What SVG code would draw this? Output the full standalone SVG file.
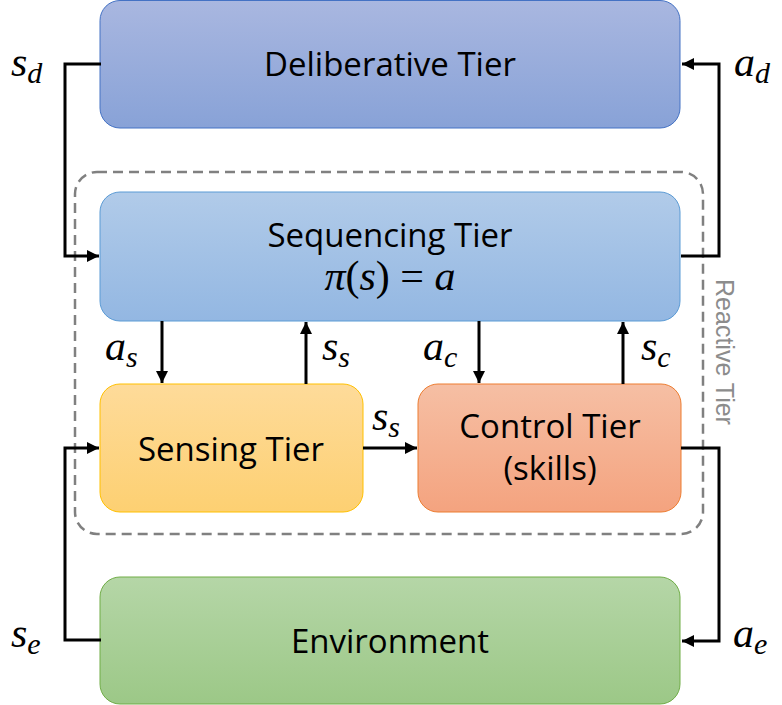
<svg xmlns="http://www.w3.org/2000/svg" width="782" height="705" viewBox="0 0 782 705">
<defs>
<linearGradient id="gDel" x1="0" y1="0" x2="0" y2="1"><stop offset="0" stop-color="#a9b7e0"/><stop offset="1" stop-color="#88a2d7"/></linearGradient>
<linearGradient id="gSeq" x1="0" y1="0" x2="0" y2="1"><stop offset="0" stop-color="#b1cbe9"/><stop offset="1" stop-color="#93b7e2"/></linearGradient>
<linearGradient id="gSen" x1="0" y1="0" x2="0" y2="1"><stop offset="0" stop-color="#fedb9a"/><stop offset="1" stop-color="#fdd072"/></linearGradient>
<linearGradient id="gCon" x1="0" y1="0" x2="0" y2="1"><stop offset="0" stop-color="#f6bfa4"/><stop offset="1" stop-color="#f4a37f"/></linearGradient>
<linearGradient id="gEnv" x1="0" y1="0" x2="0" y2="1"><stop offset="0" stop-color="#b5d6a7"/><stop offset="1" stop-color="#9cc887"/></linearGradient>
<marker id="arr" viewBox="0 0 10 10" refX="10" refY="5" markerWidth="4" markerHeight="4" markerUnits="strokeWidth" orient="auto"><path d="M0,0 L10,5 L0,10 z" fill="#000"/></marker>
</defs>
<style>
.lbl{font-family:"Open Sans","Liberation Sans",Arial,sans-serif;font-size:33px;fill:#000;text-anchor:middle}
.m{font-family:"Liberation Serif","Times New Roman",serif;font-style:italic;font-size:42px;fill:#000}
.sub{font-size:30px}
.up{font-style:normal}
.c{fill:none;stroke:#000;stroke-width:3;marker-end:url(#arr)}
</style>
<g id="reactive">
<rect x="75" y="172" width="628" height="362" rx="22" fill="none" stroke="#808080" stroke-width="2.5" stroke-dasharray="10,6"/>
<text transform="translate(716,352) rotate(90)" text-anchor="middle" font-family="'Liberation Sans',Arial,sans-serif" font-size="25" fill="#8c8c8c">Reactive Tier</text>
</g>
<g id="deliberative">
<rect x="100" y="0.5" width="580" height="127.5" rx="20" fill="url(#gDel)" stroke="#4472c4" stroke-width="1"/>
<text class="lbl" x="390" y="76">Deliberative Tier</text>
</g>
<g id="sequencing">
<rect x="100" y="192" width="580" height="129" rx="20" fill="url(#gSeq)" stroke="#5b9bd5" stroke-width="1"/>
<text class="lbl" x="390" y="247">Sequencing Tier</text>
<text class="m" x="390" y="290" text-anchor="middle">π<tspan class="up">(</tspan>s<tspan class="up">) = </tspan>a</text>
</g>
<g id="sensing">
<rect x="100" y="384" width="263" height="128" rx="20" fill="url(#gSen)" stroke="#ffc000" stroke-width="1"/>
<text class="lbl" x="231" y="461">Sensing Tier</text>
</g>
<g id="control">
<rect x="418" y="384" width="263" height="128" rx="20" fill="url(#gCon)" stroke="#ed7d31" stroke-width="1"/>
<text class="lbl" x="550" y="438">Control Tier</text>
<text class="lbl" x="550" y="480">(skills)</text>
</g>
<g id="environment">
<rect x="100" y="577" width="580" height="127" rx="20" fill="url(#gEnv)" stroke="#70ad47" stroke-width="1"/>
<text class="lbl" x="390" y="653">Environment</text>
</g>
<g id="connectors">
<path class="c" d="M101,64 H65 V256 H99"/>
<path class="c" d="M681,256 H719 V64 H682"/>
<path class="c" d="M162,321 V383"/>
<path class="c" d="M306,384 V322"/>
<path class="c" d="M479,321 V383"/>
<path class="c" d="M623,384 V322"/>
<path class="c" d="M363,448 H417"/>
<path class="c" d="M681,448 H719 V641 H682"/>
<path class="c" d="M101,640 H65 V448 H99"/>
</g>
<g id="labels">
<text class="m" x="11" y="76">s<tspan class="sub" dy="7">d</tspan></text>
<text class="m" x="734" y="76">a<tspan class="sub" dy="7">d</tspan></text>
<text class="m" x="105" y="360">a<tspan class="sub" dy="7">s</tspan></text>
<text class="m" x="322" y="360">s<tspan class="sub" dy="7">s</tspan></text>
<text class="m" x="423" y="360">a<tspan class="sub" dy="7">c</tspan></text>
<text class="m" x="641" y="360">s<tspan class="sub" dy="7">c</tspan></text>
<text class="m" x="372" y="430">s<tspan class="sub" dy="7">s</tspan></text>
<text class="m" x="11" y="647">s<tspan class="sub" dy="7">e</tspan></text>
<text class="m" x="733" y="647">a<tspan class="sub" dy="7">e</tspan></text>
</g>
</svg>
